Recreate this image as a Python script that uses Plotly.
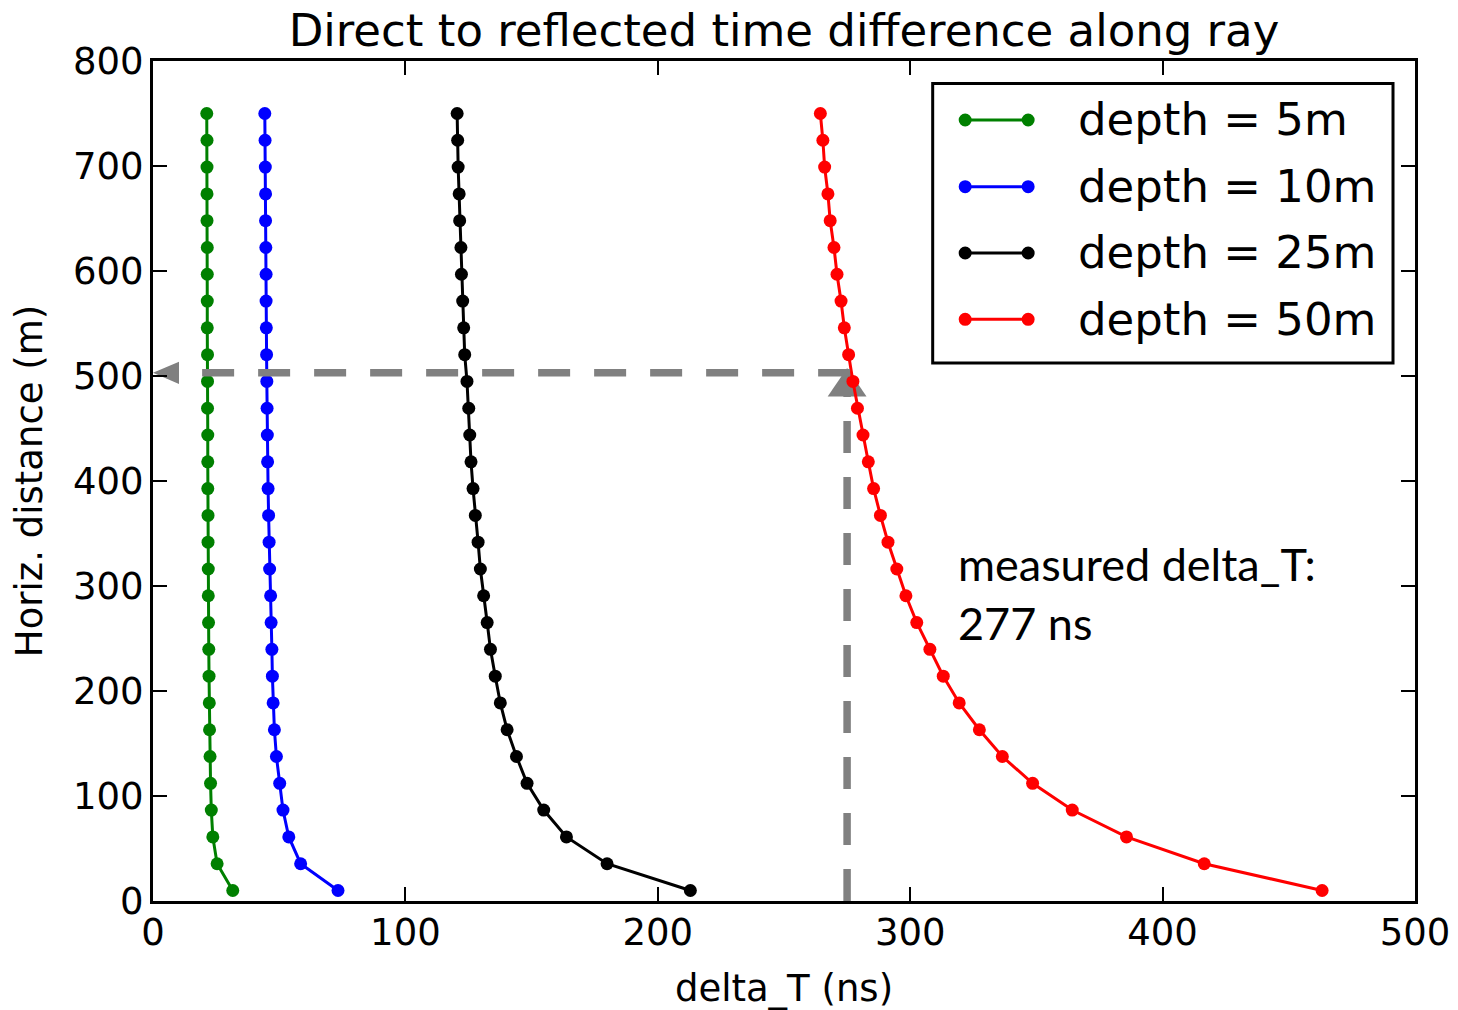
import plotly.graph_objects as go

# ---------------- data ----------------
dist_m = [10.0, 35.5, 61.0, 86.6, 112.1, 137.6, 163.1, 188.6, 214.1, 239.7,
          265.2, 290.7, 316.2, 341.7, 367.2, 392.8, 418.3, 443.8, 469.3, 494.8,
          520.3, 545.9, 571.4, 596.9, 622.4, 647.9, 673.4, 699.0, 724.5, 750.0]

dt_5m = [31.6, 25.4, 23.7, 23.1, 22.8, 22.6, 22.4, 22.3, 22.2, 22.1,
         22.0, 21.9, 21.9, 21.8, 21.8, 21.7, 21.7, 21.7, 21.6, 21.6,
         21.6, 21.5, 21.5, 21.5, 21.5, 21.4, 21.4, 21.4, 21.4, 21.3]

dt_10m = [73.3, 58.5, 53.8, 51.5, 50.2, 48.9, 48.1, 47.6, 47.3, 47.1,
          46.8, 46.6, 46.2, 46.0, 45.8, 45.6, 45.4, 45.3, 45.2, 45.1,
          45.0, 44.9, 44.8, 44.8, 44.7, 44.6, 44.6, 44.5, 44.4, 44.3]

dt_25m = [212.9, 179.9, 163.8, 154.8, 148.2, 144.0, 140.3, 137.6, 135.6, 133.7,
          132.4, 131.0, 129.7, 128.8, 127.7, 126.8, 126.0, 125.5, 125.1, 124.4,
          123.5, 123.1, 122.7, 122.2, 122.0, 121.5, 121.3, 120.9, 120.7, 120.5]

dt_50m = [463.2, 416.5, 385.7, 364.2, 348.5, 336.5, 327.4, 319.4, 313.1, 307.8,
          302.6, 298.3, 294.7, 291.2, 288.2, 285.5, 283.4, 281.3, 279.1, 277.3,
          275.6, 273.9, 272.6, 271.0, 269.8, 268.3, 267.4, 266.1, 265.4, 264.4]

series_names = ["depth = 5m", "depth = 10m", "depth = 25m", "depth = 50m"]
series_values = [dt_5m, dt_10m, dt_25m, dt_50m]
series_colors = ["#008000", "#0000ff", "#000000", "#ff0000"]

x_ticks = [0, 100, 200, 300, 400, 500]
y_ticks = [0, 100, 200, 300, 400, 500, 600, 700, 800]

measured_dt = 275.0      # x of the vertical dashed arrow
measured_dist = 503.0    # y of the horizontal dashed arrow
note_text = "measured delta_T:<br>277 ns"

# ---------------- geometry helpers ----------------
W, H = 1458, 1010
L, R, T, B = 152.5, 1415.0, 61.0, 901.0


def px_x(px):
    return (px - L) / (R - L)


def px_y(py):
    return (B - py) / (B - T)


fig = go.Figure()

for name, vals, col in zip(series_names, series_values, series_colors):
    fig.add_trace(go.Scatter(
        x=vals, y=dist_m, name=name, mode="lines+markers",
        line=dict(color=col, width=3),
        marker=dict(color=col, size=13, line=dict(width=0)),
        showlegend=False,
    ))

shapes = []
gray = "#808080"
# vertical dashed line (from the bottom up to the arrow head)
shapes.append(dict(type="line", xref="x", yref="y",
                   x0=measured_dt, y0=0, x1=measured_dt, y1=measured_dist - 15,
                   line=dict(color=gray, width=7.5, dash="32px,24px"),
                   layer="below"))
# vertical arrow head (pointing up)
shapes.append(dict(type="path", xref="x", yref="y",
                   path=f"M {measured_dt - 7.7} {measured_dist - 22.5} "
                        f"L {measured_dt + 7.7} {measured_dist - 22.5} "
                        f"L {measured_dt} {measured_dist + 4.6} Z",
                   fillcolor=gray, line=dict(width=0), layer="below"))
# horizontal dashed line (from right to left)
shapes.append(dict(type="line", xref="x", yref="y",
                   x0=measured_dt + 1.2, y0=measured_dist, x1=6, y1=measured_dist,
                   line=dict(color=gray, width=7.5, dash="32px,24px"),
                   layer="above"))
# horizontal arrow head (pointing left)
shapes.append(dict(type="path", xref="x", yref="y",
                   path=f"M 10.3 {measured_dist - 10.6} L 10.3 {measured_dist + 10.6} "
                        f"L 0 {measured_dist} Z",
                   fillcolor=gray, line=dict(width=0), layer="below"))

# ---------------- custom legend ----------------
shapes.append(dict(type="rect", xref="paper", yref="paper",
                   x0=px_x(932.5), x1=px_x(1393.0), y0=px_y(363.0), y1=px_y(83.5),
                   line=dict(color="black", width=3), fillcolor="white",
                   layer="above"))
annotations = []
rows = [120.0, 186.7, 253.0, 319.3]
for ry, name, col in zip(rows, series_names, series_colors):
    shapes.append(dict(type="line", xref="paper", yref="paper",
                       x0=px_x(965), x1=px_x(1028), y0=px_y(ry), y1=px_y(ry),
                       line=dict(color=col, width=3), layer="above"))
    for cx in (965, 1028):
        shapes.append(dict(type="circle", xref="paper", yref="paper",
                           xsizemode="pixel", ysizemode="pixel",
                           xanchor=px_x(cx), yanchor=px_y(ry),
                           x0=-6.5, x1=6.5, y0=-6.5, y1=6.5,
                           fillcolor=col, line=dict(width=0), layer="above"))
    annotations.append(dict(xref="paper", yref="paper", x=px_x(1076), y=px_y(ry),
                            xanchor="left", yanchor="middle", showarrow=False,
                            text=name, font=dict(size=45, color="black",
                                                 family="DejaVu Sans")))

annotations.append(dict(xref="x", yref="y", x=318, y=293, xanchor="left",
                        yanchor="middle", showarrow=False, align="left",
                        text=note_text,
                        font=dict(size=45, color="black", family="Lato")))

axis_common = dict(showline=True, linecolor="black", linewidth=3, mirror="ticks",
                   ticks="inside", ticklen=14, tickwidth=1.5, tickcolor="black",
                   showgrid=False, zeroline=False,
                   tickfont=dict(size=37, family="DejaVu Sans", color="black"))

fig.update_layout(
    width=W, height=H,
    margin=dict(l=L, r=W - R, t=T, b=H - B, autoexpand=False),
    paper_bgcolor="white", plot_bgcolor="white",
    font=dict(family="DejaVu Sans", color="black"),
    title=dict(text="Direct to reflected time difference along ray",
               font=dict(size=45, family="DejaVu Sans", color="black"),
               x=0.5, xref="paper", xanchor="center",
               y=1 - 30 / H, yref="container", yanchor="middle"),
    xaxis=dict(range=[0, 500], tickvals=x_ticks, ticktext=[str(v) for v in x_ticks],
               title=dict(text="delta_T (ns)", font=dict(size=37), standoff=27),
               ticklabelstandoff=-3, **axis_common),
    yaxis=dict(range=[0, 800], tickvals=y_ticks, ticktext=[str(v) for v in y_ticks],
               title=dict(text="Horiz. distance (m)", font=dict(size=37), standoff=20),
               ticklabelstandoff=-1, **axis_common),
    shapes=shapes,
    annotations=annotations,
    showlegend=False,
)

fig.write_html("out.html", config={"displayModeBar": False},
               post_script="document.body.style.margin='0';")
